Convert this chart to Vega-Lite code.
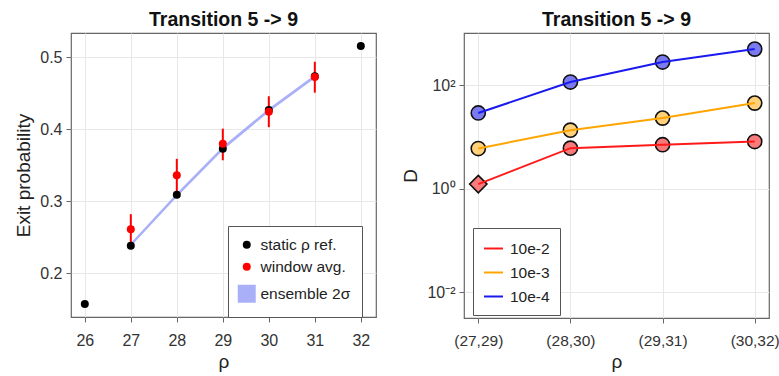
{
  "$schema": "https://vega.github.io/schema/vega-lite/v6.json",
  "padding": {"left": 14, "top": 8, "right": 0, "bottom": 5},
  "background": "white",
  "config": {
    "font": "Liberation Sans",
    "view": {"stroke": "#666666", "strokeWidth": 1.2},
    "axis": {"domain": false, "grid": true, "gridColor": "#e8e8e8", "gridWidth": 1, "tickColor": "#666666", "tickSize": 5, "labelFontSize": 16, "labelColor": "#333333", "titleFontSize": 19, "titleFontWeight": "normal", "titleColor": "#222222", "labelPadding": 4, "titlePadding": 6},
    "axisX": {"labelPadding": 10, "titlePadding": 4},
    "title": {"fontSize": 19.5, "fontWeight": "bold", "anchor": "middle", "offset": 3, "color": "#111111"},
    "legend": {"labelFontSize": 15.5, "labelColor": "#222222", "strokeColor": "#555555", "fillColor": "white", "padding": 9, "cornerRadius": 0, "titleFontSize": 0},
    "concat": {"spacing": 24}
  },
  "datasets": {
    "band": [
      {"rho": 27, "lo": 0.237, "hi": 0.242},
      {"rho": 28, "lo": 0.306, "hi": 0.311},
      {"rho": 29, "lo": 0.371, "hi": 0.376},
      {"rho": 30, "lo": 0.424, "hi": 0.429},
      {"rho": 31, "lo": 0.471, "hi": 0.476}
    ],
    "errs": [
      {"rho": 27, "lo": 0.240, "hi": 0.282},
      {"rho": 28, "lo": 0.312, "hi": 0.359},
      {"rho": 29, "lo": 0.357, "hi": 0.401},
      {"rho": 30, "lo": 0.403, "hi": 0.446},
      {"rho": 31, "lo": 0.451, "hi": 0.494}
    ],
    "probs": [
      {"rho": 26, "p": 0.157, "series": "static ρ ref."},
      {"rho": 27, "p": 0.238, "series": "static ρ ref."},
      {"rho": 28, "p": 0.309, "series": "static ρ ref."},
      {"rho": 29, "p": 0.373, "series": "static ρ ref."},
      {"rho": 30, "p": 0.427, "series": "static ρ ref."},
      {"rho": 31, "p": 0.474, "series": "static ρ ref."},
      {"rho": 32, "p": 0.516, "series": "static ρ ref."},
      {"rho": 27, "p": 0.261, "series": "window avg."},
      {"rho": 28, "p": 0.336, "series": "window avg."},
      {"rho": 29, "p": 0.380, "series": "window avg."},
      {"rho": 30, "p": 0.4245, "series": "window avg."},
      {"rho": 31, "p": 0.4727, "series": "window avg."}
    ],
    "D": [
      {"pair": "(27,29)", "dt": "10e-2", "D": 1.23},
      {"pair": "(28,30)", "dt": "10e-2", "D": 6.1},
      {"pair": "(29,31)", "dt": "10e-2", "D": 7.1},
      {"pair": "(30,32)", "dt": "10e-2", "D": 8.2},
      {"pair": "(27,29)", "dt": "10e-3", "D": 6.0},
      {"pair": "(28,30)", "dt": "10e-3", "D": 13.6},
      {"pair": "(29,31)", "dt": "10e-3", "D": 23.3},
      {"pair": "(30,32)", "dt": "10e-3", "D": 45.4},
      {"pair": "(27,29)", "dt": "10e-4", "D": 29.2},
      {"pair": "(28,30)", "dt": "10e-4", "D": 116},
      {"pair": "(29,31)", "dt": "10e-4", "D": 283},
      {"pair": "(30,32)", "dt": "10e-4", "D": 503}
    ]
  },
  "resolve": {"scale": {"color": "independent", "shape": "independent", "fill": "independent"}},
  "hconcat": [
    {
      "width": 305,
      "height": 284,
      "title": "Transition 5 -> 9",
      "encoding": {
        "x": {"field": "rho", "type": "quantitative", "scale": {"domain": [25.7, 32.33], "nice": false, "zero": false}, "axis": {"values": [26, 27, 28, 29, 30, 31, 32], "format": "d", "title": "ρ"}}
      },
      "layer": [
        {
          "data": {"name": "band"},
          "mark": {"type": "area", "color": "#aab0f8", "opacity": 1},
          "encoding": {
            "y": {"field": "lo", "type": "quantitative", "scale": {"domain": [0.139, 0.534], "nice": false, "zero": false}, "axis": {"values": [0.2, 0.3, 0.4, 0.5], "format": ".1f", "title": "Exit probability"}},
            "y2": {"field": "hi"}
          }
        },
        {
          "data": {"name": "errs"},
          "mark": {"type": "rule", "color": "#ff0000", "strokeWidth": 2},
          "encoding": {
            "y": {"field": "lo", "type": "quantitative", "axis": {"title": "Exit probability"}},
            "y2": {"field": "hi"}
          }
        },
        {
          "data": {"name": "probs"},
          "mark": {"type": "point", "filled": true, "size": 64, "opacity": 1},
          "encoding": {
            "y": {"field": "p", "type": "quantitative", "axis": {"title": "Exit probability"}},
            "color": {"field": "series", "type": "nominal", "scale": {"domain": ["static ρ ref.", "window avg.", "ensemble 2σ"], "range": ["#000000", "#ff0000", "#aab0f8"]}, "legend": {"orient": "none", "legendX": 157, "legendY": 193, "title": null, "symbolSize": 64, "symbolOpacity": 1, "labelOffset": 6, "rowPadding": 5, "padding": 11}},
            "shape": {"field": "series", "type": "nominal", "scale": {"domain": ["static ρ ref.", "window avg.", "ensemble 2σ"], "range": ["circle", "circle", "M-2.25,-2.25H2.25V2.25H-2.25Z"]}, "legend": {"orient": "none", "legendX": 157, "legendY": 193, "title": null}}
          }
        }
      ]
    },
    {
      "width": 305,
      "height": 285,
      "title": "Transition 5 -> 9",
      "data": {"name": "D"},
      "encoding": {
        "x": {"field": "pair", "type": "ordinal", "scale": {"type": "point", "domain": ["(27,29)", "(28,30)", "(29,31)", "(30,32)"], "padding": 0.155}, "axis": {"title": "ρ", "labelAngle": 0, "labelFontSize": 15.5}},
        "y": {"field": "D", "type": "quantitative", "scale": {"type": "log", "domain": [0.00316, 1030], "nice": false}, "axis": {"values": [0.01, 1, 100], "labelExpr": "datum.value >= 50 ? '10²' : datum.value >= 0.5 ? '10⁰' : '10⁻²'", "title": "D"}}
      },
      "layer": [
        {
          "mark": {"type": "point", "filled": true, "stroke": "#111111", "strokeWidth": 1.6, "opacity": 1},
          "encoding": {
            "fill": {"field": "dt", "type": "nominal", "scale": {"domain": ["10e-2", "10e-3", "10e-4"], "range": ["#f87a7a", "#ffd17a", "#7b7bf0"]}, "legend": {"orient": "none", "legendX": 9, "legendY": 195, "title": null}},
            "shape": {"condition": {"test": "datum.pair === '(27,29)' && datum.dt === '10e-2'", "value": "diamond"}, "value": "circle"},
            "size": {"condition": {"test": "datum.pair === '(27,29)' && datum.dt === '10e-2'", "value": 300}, "value": 200}
          }
        },
        {
          "mark": {"type": "line", "strokeWidth": 2},
          "encoding": {
            "color": {"field": "dt", "type": "nominal", "scale": {"domain": ["10e-2", "10e-3", "10e-4"], "range": ["#ff1a1a", "#ffa500", "#1a1aee"]}, "legend": {"orient": "none", "legendX": 9, "legendY": 195, "title": null, "symbolType": "stroke", "symbolSize": 360, "symbolStrokeWidth": 2, "labelOffset": 6, "rowPadding": 5, "padding": 10}}
          }
        }
      ]
    }
  ]
}
